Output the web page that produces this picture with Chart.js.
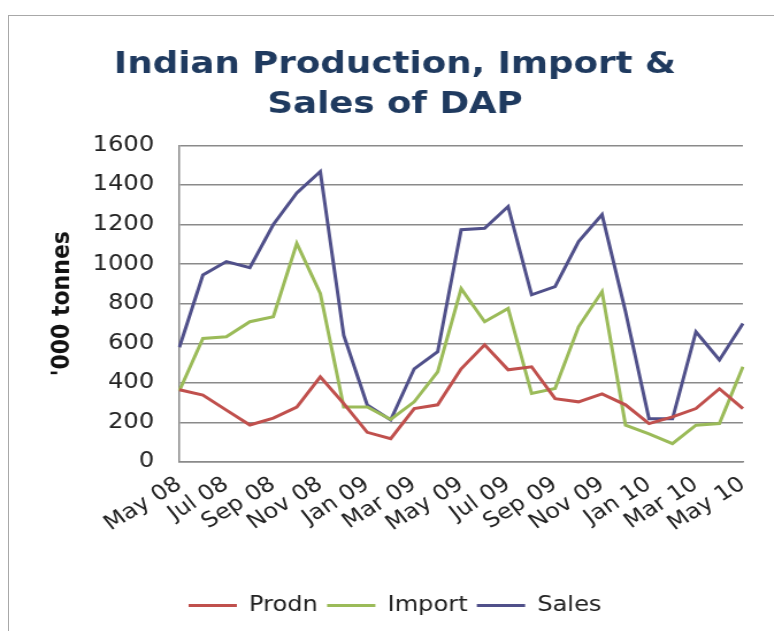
<!DOCTYPE html>
<html>
<head>
<meta charset="utf-8">
<script src="https://cdn.jsdelivr.net/npm/chart.js@4.4.0/dist/chart.umd.min.js"></script>
<style>
  html, body { margin: 0; padding: 0; background: #fff; overflow: hidden; }
  #frame { position: absolute; left: 8px; top: 15px; width: 800px; height: 700px; border: 1.5px solid #a8a8a8; }
  /* the reference is a bit stretched sideways, so draw narrow and widen */
  #wrap { position: absolute; left: 0; top: 0; width: 673px; height: 631px; transform: scaleX(1.15); transform-origin: 0 0; }
</style>
</head>
<body>
<div id="frame"></div>
<div id="wrap"><canvas id="chart"></canvas></div>
<script>
const months = ['May 08', 'Jun 08', 'Jul 08', 'Aug 08', 'Sep 08', 'Oct 08', 'Nov 08', 'Dec 08',
  'Jan 09', 'Feb 09', 'Mar 09', 'Apr 09', 'May 09', 'Jun 09', 'Jul 09', 'Aug 09', 'Sep 09',
  'Oct 09', 'Nov 09', 'Dec 09', 'Jan 10', 'Feb 10', 'Mar 10', 'Apr 10', 'May 10'];

const prodn = [365, 338, 262, 187, 222, 278, 430, 295, 150, 118, 270, 289, 471,
  592, 466, 481, 320, 304, 344, 289, 194, 228, 270, 370, 270];
const imports = [360, 624, 633, 709, 734, 1105, 852, 278, 278, 215, 304, 456, 876,
  709, 776, 346, 371, 683, 861, 186, 142, 93, 186, 194, 481];
const sales = [580, 945, 1013, 982, 1200, 1359, 1468, 640, 288, 213, 471, 557, 1174,
  1181, 1291, 845, 886, 1114, 1250, 760, 218, 218, 658, 516, 700];

const yTicks = [0, 200, 400, 600, 800, 1000, 1200, 1400, 1600];

const gridGray = '#8a8a8a';
const font = 'DejaVu Sans';

const ctx = document.getElementById('chart').getContext('2d');
new Chart(ctx, {
  type: 'line',
  data: {
    labels: months,
    datasets: [
      { label: 'Prodn', data: prodn, borderColor: '#C0504D', backgroundColor: '#C0504D' },
      { label: 'Import', data: imports, borderColor: '#9BBB59', backgroundColor: '#9BBB59' },
      { label: 'Sales', data: sales, borderColor: '#50508A', backgroundColor: '#50508A' },
    ],
  },
  options: {
    responsive: true,
    maintainAspectRatio: false,
    animation: false,
    datasets: { line: { borderWidth: 3, pointRadius: 0, tension: 0 } },
    layout: { padding: { left: 41, right: 27, bottom: 5 } },
    plugins: {
      title: {
        display: true,
        text: ['Indian Production, Import &', 'Sales of DAP'],
        color: '#1F3A5F',
        font: { family: font, size: 31, weight: 'bold', lineHeight: 1.28 },
        padding: { top: 45, bottom: 21 },
      },
      legend: {
        position: 'bottom',
        labels: {
          usePointStyle: true,
          pointStyle: 'line',
          pointStyleWidth: 42,
          color: '#222',
          font: { family: font, size: 21 },
          padding: 8,
        },
      },
      tooltip: { enabled: false },
    },
    scales: {
      x: {
        grid: { display: false },
        border: { display: true, color: gridGray, width: 1.5 },
        afterFit: (scale) => { scale.height = 125; },
        ticks: {
          autoSkip: false,
          maxRotation: 35,
          minRotation: 35,
          padding: 2,
          color: '#222',
          font: { family: font, size: 21 },
          callback: (v, i) => (i % 2 === 0 ? months[i] : ''),
        },
      },
      y: {
        min: 0,
        max: 1600,
        afterBuildTicks: (axis) => { axis.ticks = yTicks.map((v) => ({ value: v })); },
        afterFit: (scale) => { scale.width = 115; },
        grid: { color: gridGray, lineWidth: 1.5, drawTicks: false },
        border: { display: true, color: gridGray, width: 1.5 },
        ticks: {
          padding: 22,
          color: '#222',
          font: { family: font, size: 21 },
          callback: (v) => String(v),
        },
        title: {
          display: true,
          text: "'000 tonnes",
          color: '#111',
          font: { family: font, size: 22, weight: 'bold' },
          padding: { top: 0, bottom: 0 },
        },
      },
    },
  },
});
</script>
</body>
</html>
